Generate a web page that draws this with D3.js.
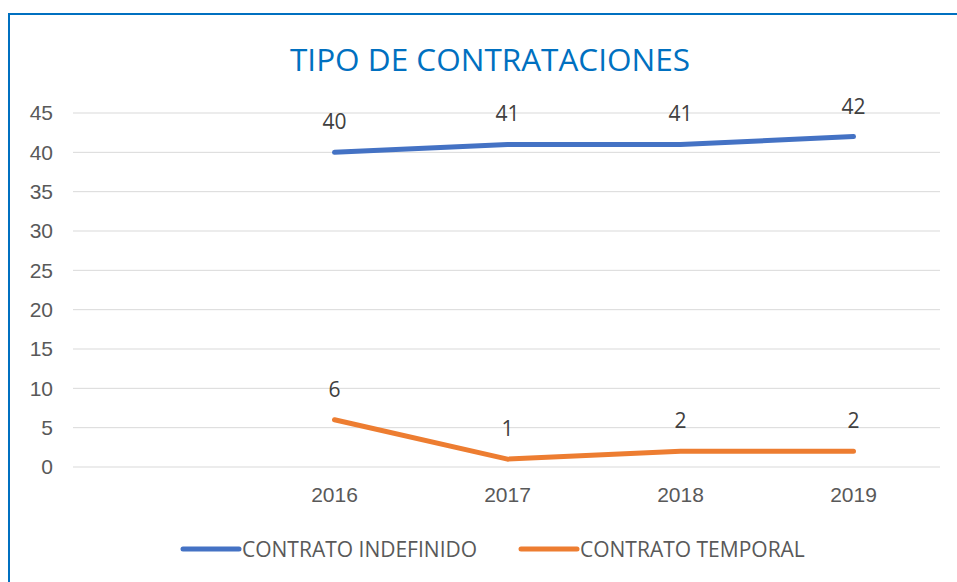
<!DOCTYPE html>
<html><head><meta charset="utf-8">
<script src="https://cdn.jsdelivr.net/npm/d3@7"></script>
<style>body{margin:0;background:#fff;}svg{display:block;font-family:"Liberation Sans Narrow","Open Sans",sans-serif;}</style>
</head><body><div id="chart"></div>
<script>
const categories = ["", "2016", "2017", "2018", "2019"];
const indefinido = [null, 40, 41, 41, 42];
const temporal = [null, 6, 1, 2, 2];
const yTicks = [0, 5, 10, 15, 20, 25, 30, 35, 40, 45];
const seriesNames = ["CONTRATO INDEFINIDO", "CONTRATO TEMPORAL"];
const colors = ["#4472c4", "#ed7d31"];

const W = 957, H = 582;
const svg = d3.select("#chart").append("svg").attr("width", W).attr("height", H);
svg.append("rect").attr("x", 9).attr("y", 14).attr("width", 1000).attr("height", 700)
  .attr("fill", "none").attr("stroke", "#0070c0").attr("stroke-width", 2);

svg.append("text").attr("x", 490).attr("y", 71).attr("text-anchor", "middle")
  .attr("fill", "#0070c0").attr("font-size", 31.5).text("TIPO DE CONTRATACIONES");

const x = d3.scaleBand().domain(categories).range([75, 940]);
const y = d3.scaleLinear().domain([0, 45]).range([467, 113]);

const grid = svg.append("g");
grid.selectAll("line").data(yTicks).join("line")
  .attr("x1", 73).attr("x2", 940).attr("y1", d => y(d)).attr("y2", d => y(d))
  .attr("stroke", "#d9d9d9").attr("stroke-width", 1);

const yAxis = svg.append("g").attr("transform", "translate(53,0)")
  .call(d3.axisLeft(y).tickValues(yTicks).tickSize(0).tickPadding(0));
yAxis.select(".domain").remove();
yAxis.selectAll("text").attr("font-size", 21).attr("fill", "#595959").attr("font-family", "inherit");

const xAxis = svg.append("g").attr("transform", "translate(0,484)")
  .call(d3.axisBottom(x).tickSize(0).tickPadding(0));
xAxis.select(".domain").remove();
xAxis.selectAll("text").attr("font-size", 21).attr("fill", "#595959").attr("font-family", "inherit").attr("dy", "0.85em");

const line = d3.line().defined(d => d.v != null).x(d => x(d.c) + x.bandwidth() / 2).y(d => y(d.v));
[indefinido, temporal].forEach((vals, i) => {
  const data = categories.map((c, j) => ({ c, v: vals[j] }));
  svg.append("path").datum(data).attr("d", line).attr("fill", "none")
    .attr("stroke", colors[i]).attr("stroke-width", 5).attr("stroke-linecap", "round").attr("stroke-linejoin", "round");
  svg.append("g").selectAll("text").data(data.filter(d => d.v != null)).join("text")
    .attr("x", d => x(d.c) + x.bandwidth() / 2).attr("y", d => y(d.v) - 23)
    .attr("text-anchor", "middle").attr("font-size", 21).attr("fill", "#404040").text(d => d.v);
});

const legX = [183, 521];
seriesNames.forEach((n, i) => {
  const g = svg.append("g");
  g.append("line").attr("x1", legX[i]).attr("x2", legX[i] + 56).attr("y1", 549).attr("y2", 549)
    .attr("stroke", colors[i]).attr("stroke-width", 5).attr("stroke-linecap", "round");
  g.append("text").attr("x", legX[i] + 59).attr("y", 557).attr("font-size", 21).attr("fill", "#595959").text(n);
});
</script></body></html>
